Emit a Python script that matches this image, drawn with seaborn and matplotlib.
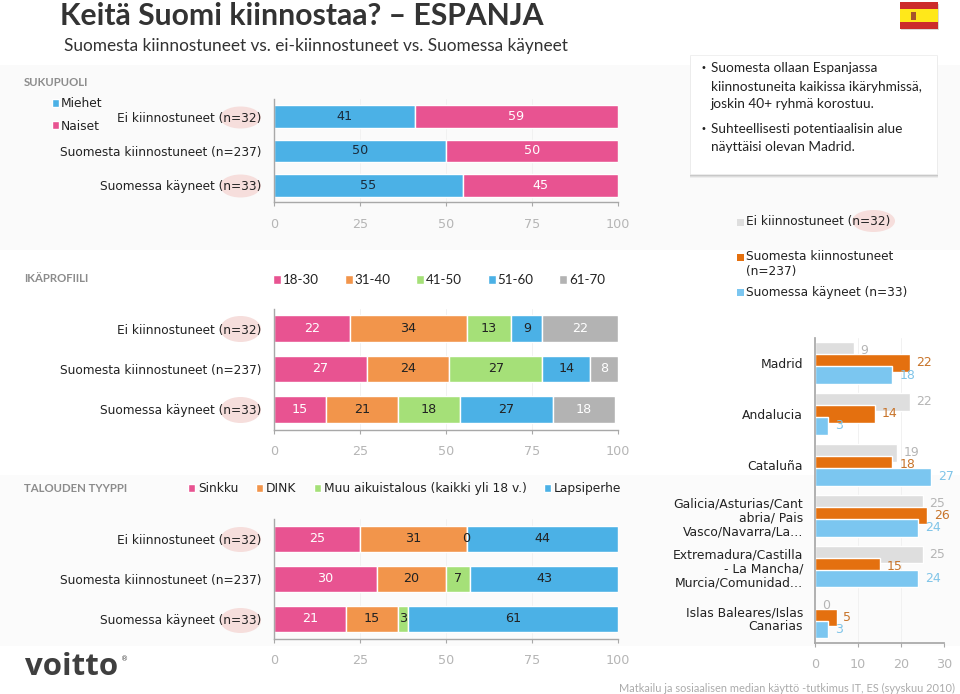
import numpy as np
import pandas as pd
import matplotlib
matplotlib.use("Agg")
import matplotlib.pyplot as plt
from matplotlib.patches import Rectangle, Ellipse
import seaborn as sns

sns.set_theme(style="white")
plt.rcParams['font.family'] = ['DejaVu Sans']

groups = ["Ei kiinnostuneet (n=32)", "Suomesta kiinnostuneet (n=237)", "Suomessa käyneet (n=33)"]

gender_names = ["Miehet", "Naiset"]
gender_vals = [[41, 50, 55], [59, 50, 45]]
gender_cols = ["#4BB1E6", "#E85391"]
gender_txt = ["#1a2a3a", "white"]

age_names = ["18-30", "31-40", "41-50", "51-60", "61-70"]
age_vals = [[22, 27, 15], [34, 24, 21], [13, 27, 18], [9, 14, 27], [22, 8, 18]]
age_cols = ["#E85391", "#F2954B", "#A5E078", "#4BB1E6", "#B3B3B3"]
age_txt = ["white", "#222222", "#222222", "#222222", "white"]

house_names = ["Sinkku", "DINK", "Muu aikuistalous (kaikki yli 18 v.)", "Lapsiperhe"]
house_vals = [[25, 30, 21], [31, 20, 15], [0, 7, 3], [44, 43, 61]]
house_cols = ["#E85391", "#F2954B", "#A5E078", "#4BB1E6"]
house_txt = ["white", "#222222", "#222222", "#222222"]

regions = ["Madrid", "Andalucia", "Cataluña",
           "Galicia/Asturias/Cant\nabria/ Pais\nVasco/Navarra/La…",
           "Extremadura/Castilla\n- La Mancha/\nMurcia/Comunidad…",
           "Islas Baleares/Islas\nCanarias"]
region_groups = ["Ei kiinnostuneet (n=32)", "Suomesta kiinnostuneet (n=237)", "Suomessa käyneet (n=33)"]
region_vals = [[9, 22, 19, 25, 25, 0], [22, 14, 18, 26, 15, 5], [18, 3, 27, 24, 24, 3]]
region_cols = ["#DEDEDE", "#E4700F", "#7BC6F0"]
region_txt = ["#B5B5B5", "#C8742A", "#7FC4E8"]

W, H = 960, 694
fig = plt.figure(figsize=(9.6, 6.94), dpi=100, facecolor="white")
bg = fig.add_axes([0, 0, 1, 1], zorder=0)
bg.set_xlim(0, W); bg.set_ylim(H, 0); bg.axis("off")

def px_axes(x0, y0, x1, y1):
    return fig.add_axes([x0 / W, 1 - y1 / H, (x1 - x0) / W, (y1 - y0) / H], zorder=2, facecolor="none")

# soft panel backgrounds
bg.add_patch(Rectangle((0, 65), 960, 185, fc="#FAFAFA", ec="none"))
bg.add_patch(Rectangle((0, 475), 960, 171, fc="#FBFBFB", ec="none"))

AX = "#A8A8A8"
TICK = "#B5B5B5"

def stacked(names, vals, cols, txts, y0, y1):
    ax = px_axes(274, y0, 618, y1)
    left = np.zeros(3)
    for name, v, c, t in zip(names, vals, cols, txts):
        df = pd.DataFrame({"group": groups, "value": v})
        n0 = len(ax.containers)
        sns.barplot(data=df, x="value", y="group", order=groups, color=c, saturation=1,
                    width=0.665, left=left, ax=ax, label=name, orient="y", errorbar=None)
        cont = ax.containers[n0]
        ax.bar_label(cont, labels=[str(x) for x in v], label_type="center", color=t, fontsize=9.2)
        left = left + np.array(v)
    ax.set_xlim(0, 100)
    ax.set_xticks([0, 25, 50, 75, 100])
    ax.set_xlabel(""); ax.set_ylabel("")
    ax.grid(axis="x", color="#F1F1F1", lw=0.7)
    ax.set_axisbelow(True)
    for s in ("top", "right"):
        ax.spines[s].set_visible(False)
    for s in ("left", "bottom"):
        ax.spines[s].set_color(AX); ax.spines[s].set_linewidth(1.0)
    ax.tick_params(axis="x", colors=TICK, labelsize=9.2, length=3, width=0.8, color=AX, pad=8, bottom=True)
    ax.tick_params(axis="y", length=0, labelsize=8.7, labelcolor="#222222", pad=9)
    return ax

ax1 = stacked(gender_names, gender_vals, gender_cols, gender_txt, 99.5, 202.5)
ax2 = stacked(age_names, age_vals, age_cols, age_txt, 308.5, 429.5)
ax3 = stacked(house_names, house_vals, house_cols, house_txt, 519, 639)

# pink ellipses behind (n=..)
for cx, cy, w, h in [(240.5, 117.5, 41, 22), (240.5, 186, 41, 23),
                     (240.5, 329, 41, 26), (240.5, 410, 41, 26),
                     (240.5, 539.5, 41, 25), (240.5, 620.5, 41, 25),
                     (873.5, 221, 43, 22)]:
    bg.add_patch(Ellipse((cx, cy), w, h, fc="#F6DEDC", ec="none"))

# legends
def small_legend(ax, anchor, ncol=1, fs=8.8, font="DejaVu Sans", tp=0.3, **kw):
    leg = ax.legend(loc="upper left", bbox_to_anchor=(anchor[0] / W, 1 - anchor[1] / H),
                    bbox_transform=fig.transFigure, ncol=ncol, frameon=False,
                    handlelength=0.6, handleheight=0.6, handletextpad=tp,
                    borderpad=0, borderaxespad=0, prop={"family": font, "size": fs}, **kw)
    for t in leg.get_texts():
        t.set_color("#222222")
    return leg

small_legend(ax1, (52, 97), labelspacing=0.78, tp=0.15)
small_legend(ax2, (273, 274), ncol=5, fs=9.6, font="Lato", columnspacing=1.95, tp=0.12)
small_legend(ax3, (188, 482), ncol=4, fs=8.8, columnspacing=1.42, tp=0.22)

# region chart
ax4 = px_axes(815, 337.5, 944, 643)
rdf = pd.DataFrame({"region": np.tile(regions, 3),
                    "grp": np.repeat(region_groups, 6),
                    "value": np.concatenate(region_vals)})
sns.barplot(data=rdf, x="value", y="region", hue="grp", order=regions, hue_order=region_groups,
            palette=region_cols, saturation=1, width=0.711, gap=-0.456, ax=ax4, orient="y",
            errorbar=None, legend=False)
for cont, vals, tc in zip(ax4.containers, region_vals, region_txt):
    ax4.bar_label(cont, labels=[str(v) for v in vals], padding=5, color=tc, fontsize=9)
ax4.set_xlim(0, 30); ax4.set_xticks([0, 10, 20, 30])
ax4.set_ylim(5.5, -0.5)
ax4.set_xlabel(""); ax4.set_ylabel("")
ax4.grid(axis="x", color="#F1F1F1", lw=0.7); ax4.set_axisbelow(True)
for s in ("top", "right"):
    ax4.spines[s].set_visible(False)
for s in ("left", "bottom"):
    ax4.spines[s].set_color(AX)
ax4.tick_params(axis="x", colors=TICK, labelsize=9.2, length=3, width=0.8, color=AX, pad=8, bottom=True)
ax4.tick_params(axis="y", length=0, labelsize=8.9, labelcolor="#222222", pad=8.5)
for t in ax4.get_yticklabels():
    t.set_ha("right"); t.set_multialignment("right"); t.set_linespacing(1.12)

# region legend
for y, c in [(222, region_cols[0]), (257, region_cols[1]), (292, region_cols[2])]:
    bg.add_patch(Rectangle((737, y - 3.5), 7, 7, fc=c, ec="none"))
bg.text(746, 221, region_groups[0], fontsize=8.7, va="center", color="#222222")
bg.text(746, 264, "Suomesta kiinnostuneet\n(n=237)", fontsize=8.7, va="center", color="#222222", linespacing=1.15)
bg.text(746, 292.5, region_groups[2], fontsize=8.7, va="center", color="#222222")

# titles
bg.text(60, 15.5, "Keitä Suomi kiinnostaa? – ESPANJA", family="Lato", weight="bold", fontsize=21.7,
        va="center", color="#333333")
bg.text(64, 46, "Suomesta kiinnostuneet vs. ei-kiinnostuneet vs. Suomessa käyneet", family="Lato",
        fontsize=12.45, va="center", color="#333333")
for y, s in [(82, "SUKUPUOLI"), (278, "IKÄPROFIILI"), (488, "TALOUDEN TYYPPI")]:
    bg.text(24, y, s, family="Lato", weight="bold", fontsize=8.2, va="center", color="#8C8C8C")

# callout
for off, a in [(3, 0.05), (2, 0.07), (1, 0.09)]:
    bg.add_patch(Rectangle((690, 55 + off), 248, 120, fc="black", alpha=a, ec="none"))
bg.add_patch(Rectangle((690, 55), 247, 119, fc="white", ec="#EEEEEE", lw=0.6, zorder=3))
callout_lines = ["Suomesta ollaan Espanjassa", "kiinnostuneita kaikissa ikäryhmissä,",
                 "joskin 40+ ryhmä korostuu.", "Suhteellisesti potentiaalisin alue",
                 "näyttäisi olevan Madrid."]
for y, s in zip([68, 86.5, 104, 129, 147], callout_lines):
    bg.text(711, y, s, family="Lato", fontsize=9.8, va="center", color="#222222", zorder=4)
for y in (68, 129):
    bg.text(701, y - 0.5, "•", fontsize=7, va="center", color="#222222", zorder=4)

# flag
bg.add_patch(Rectangle((901, 4), 38, 26, fc="black", alpha=0.15, ec="none", zorder=2))
bg.add_patch(Rectangle((900, 2), 38, 26.5, fc="#CC2B2B", ec="none", zorder=3))
bg.add_patch(Rectangle((900, 9), 38, 13, fc="#FFE81A", ec="none", zorder=3))
bg.add_patch(Rectangle((910.5, 12), 5, 7.5, fc="#A5552B", ec="none", zorder=4))

# logo and source
bg.text(25, 667, "voitto", family="Open Sans", weight="bold", fontsize=22.5, va="center", color="#3F3F3F")
bg.text(120.5, 659, "®", fontsize=5, va="center", color="#3F3F3F")
bg.text(619, 688, "Matkailu ja sosiaalisen median käyttö -tutkimus IT, ES (syyskuu 2010)", family="Lato",
        fontsize=7.9, va="center", color="#ABABAB")

fig.savefig("out.png", dpi=100)
